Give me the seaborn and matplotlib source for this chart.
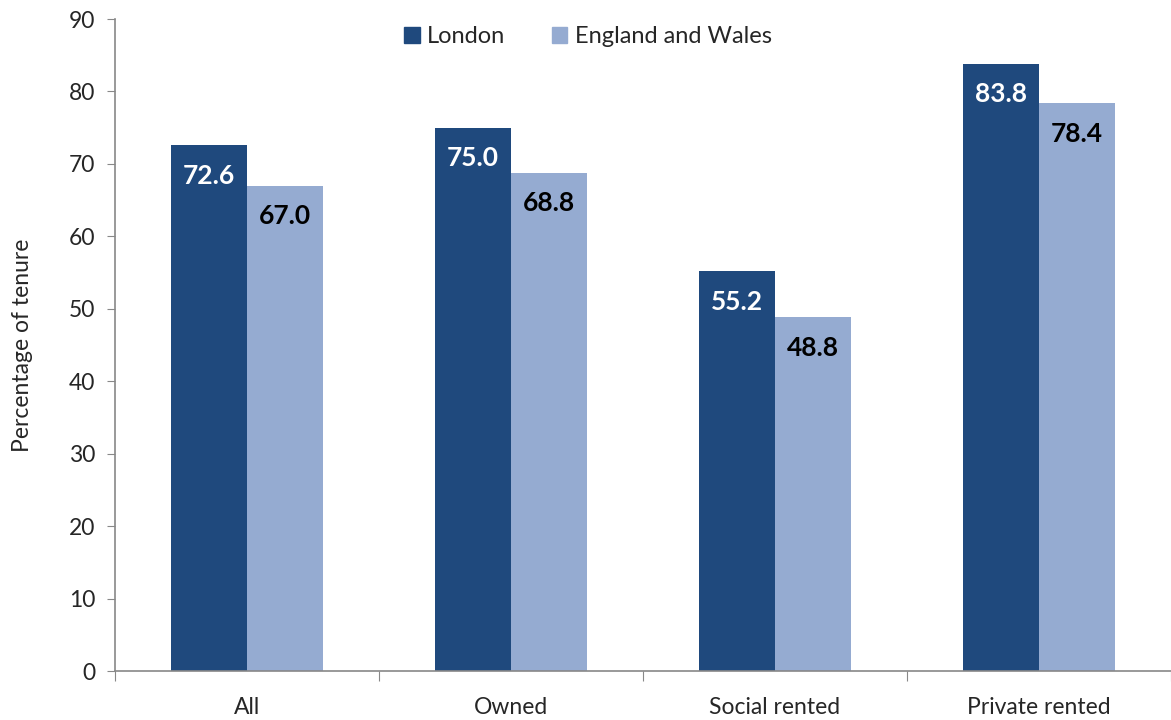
import matplotlib
matplotlib.use('Agg')
import matplotlib.pyplot as plt
import seaborn as sns
import pandas as pd

categories = ['All', 'Owned', 'Social rented', 'Private rented']
series = ['London', 'England and Wales']
london = [72.6, 75.0, 55.2, 83.8]
eng_wales = [67.0, 68.8, 48.8, 78.4]

colors = ['#1F497D', '#95ABD1']
label_colors = ['white', 'black']

sns.set_style('white')
plt.rcParams['font.family'] = ['Lato', 'DejaVu Sans']

df = pd.DataFrame({
    'category': categories * 2,
    'series': [series[0]] * 4 + [series[1]] * 4,
    'value': london + eng_wales,
})

fig = plt.figure(figsize=(11.71, 7.2), dpi=100)
ax = fig.add_axes([0.0982, 0.068, 0.9018, 0.9056])

sns.barplot(data=df, x='category', y='value', hue='series', order=categories,
            hue_order=series, palette=colors, width=0.576, gap=0,
            saturation=1, linewidth=0, ax=ax, legend=False)

# value labels inside the top of each bar
for cont, col in zip(ax.containers, label_colors):
    for bar in cont:
        h = bar.get_height()
        ax.annotate(f'{h:.1f}', (bar.get_x() + bar.get_width() / 2, h),
                    xytext=(0, -22), textcoords='offset points',
                    ha='center', va='center', color=col,
                    fontsize=19, fontweight='bold')

ax.set_xlim(-0.5, 3.5)
ax.set_ylim(0, 90)
ax.set_yticks(range(0, 91, 10))
ax.tick_params(axis='y', length=6, color='#888888', labelsize=16.5, pad=8,
               left=True, direction='out')

# boundaries as major ticks, names as minor ticks
ax.set_xticks([-0.5, 0.5, 1.5, 2.5, 3.5])
ax.set_xticklabels([])
ax.set_xticks(range(4), minor=True)
ax.set_xticklabels(categories, minor=True)
ax.tick_params(axis='x', which='major', length=7, color='#888888',
               bottom=True, direction='out')
ax.tick_params(axis='x', which='minor', length=0, labelsize=16.5, pad=19)

ax.set_xlabel('')
ax.set_ylabel('Percentage of tenure', fontsize=16.5, labelpad=26)

for s in ['top', 'right']:
    ax.spines[s].set_visible(False)
for s in ['left', 'bottom']:
    ax.spines[s].set_color('#888888')
    ax.spines[s].set_linewidth(1.2)

handles = [plt.Rectangle((0, 0), 1, 1, color=c) for c in colors]
fig.legend(handles, series, loc='center', bbox_to_anchor=(0.502, 0.949),
           ncol=2, frameon=False, fontsize=17, handlelength=0.65,
           handleheight=0.65, handletextpad=0.3, columnspacing=2.0)

fig.savefig('out.png', dpi=100)
